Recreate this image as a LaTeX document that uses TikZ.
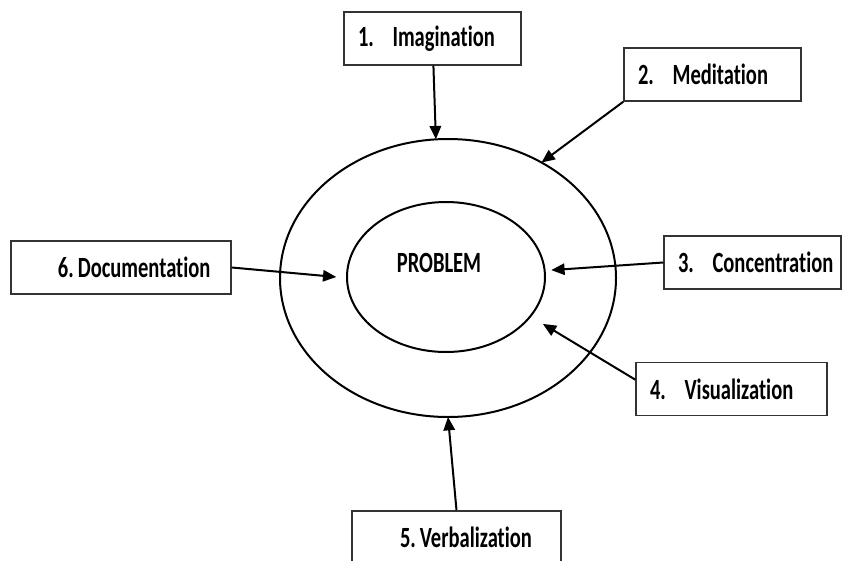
\documentclass[tikz,border=0pt]{standalone}
\usepackage{fontspec}
\usepackage{tikz}
\usetikzlibrary{arrows.meta,shapes.geometric}
\newfontfamily\boxfont{Carlito}[FakeStretch=0.70,Ligatures=NoCommon]
\newcommand{\numgap}{\hspace{14pt}}

\begin{document}
\begin{tikzpicture}[
  x=0.75pt, y=-0.75pt,
  box/.style={draw=black!80,line width=1.1pt,minimum height=39.75pt,inner xsep=10.5pt,text width=#1,align=left,font=\boxfont\bfseries\fontsize{22}{26}\selectfont\frenchspacing},
  ring/.style={draw,ellipse,line width=1.5pt,inner sep=0pt,outer sep=0pt},
  lbl/.style={font=\boxfont\bfseries\fontsize{22}{26}\selectfont},
  arr/.style={-{Triangle[length=10pt,width=8.5pt]},line width=1.5pt},
]
\useasboundingbox (0,0) rectangle (845,560);

% centre rings
\node[ring,minimum width=252pt,minimum height=208.5pt] (outer) at (448,278) {};
\node[ring,minimum width=148.5pt,minimum height=112.5pt] (inner) at (446,277) {};
\node[lbl] (prob) at (439,263) {PROBLEM};

% the six boxes, clockwise from the top
\node[box=111.75pt] (img)  at (432.5,38.5) {\mbox{1.\numgap Imagination}};
\node[box=111.75pt] (med)  at (712.5,74.5) {\mbox{2.\numgap Meditation}};
\node[box=111.75pt] (conc) at (752.5,262.5) {\mbox{3.\numgap Concentration}};
\node[box=122.25pt] (vis)  at (731.5,389) {\mbox{4.\numgap Visualization}};
\node[box=135.75pt] (verb) at (456.5,537.5) {\mbox{\hspace*{25.5pt}5.\hspace{3pt}Verbalization}};
\node[box=165pt,inner xsep=0pt] (doc) at (121,267.5) {\mbox{\hspace*{35.25pt}6.\hspace{3pt}Documentation}};

\draw[arr] (img)            -- (outer.95);
\draw[arr] (med.south west) -- (outer.51);
\draw[arr] (conc.west)      -- ([xshift=5pt]inner.4);
\draw[arr,shorten >=11pt] ([yshift=7pt]vis.west) -- (inner.-25);
\draw[arr] (verb.north)     -- (outer.south);
\draw[arr] (doc.east)       -- ([xshift=-8pt]inner.west);
\end{tikzpicture}
\end{document}
